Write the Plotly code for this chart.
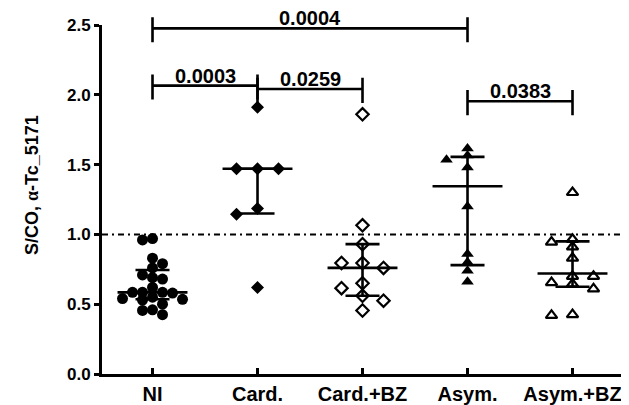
import plotly.graph_objects as go

# ---------------- data ----------------
categories = ["NI", "Card.", "Card.+BZ", "Asym.", "Asym.+BZ"]

ni_values = [0.97, 0.96, 0.83, 0.79, 0.76, 0.71, 0.69, 0.68, 0.62, 0.585, 0.585,
             0.585, 0.58, 0.55, 0.54, 0.535, 0.53, 0.50, 0.46, 0.455, 0.425]
card_values = [1.91, 1.47, 1.47, 1.47, 1.185, 1.145, 0.62]
card_bz_values = [1.86, 1.065, 0.93, 0.795, 0.795, 0.76, 0.65, 0.615, 0.56, 0.525, 0.455]
asym_values = [1.615, 1.565, 1.535, 1.48, 1.20, 0.86, 0.80, 0.74, 0.66]
asym_bz_values = [1.30, 0.965, 0.945, 0.91, 0.83, 0.70, 0.70, 0.655, 0.645, 0.61, 0.425, 0.42]

medians = [0.585, 1.47, 0.76, 1.345, 0.72]
lower_q = [0.535, 1.15, 0.56, 0.78, 0.625]
upper_q = [0.745, 1.47, 0.93, 1.555, 0.95]

p_labels = ["0.0004", "0.0003", "0.0259", "0.0383"]
p_pairs = [(0, 3), (0, 1), (1, 2), (3, 4)]
p_heights = [2.476, 2.066, 2.042, 1.954]

cutoff = 1.0
y_ticks = [0.0, 0.5, 1.0, 1.5, 2.0, 2.5]

# ---------------- layout geometry ----------------
# The page body has an 8px default margin, so the figure is 8px smaller
# than the 629x405 window and its margins are reduced accordingly.
BODY = 8
W, H = 629 - BODY, 405 - BODY
ML, MR, MT, MB = 102 - BODY, 0, 25 - BODY, 29
X0, X1 = -0.481, 4.538
Y0, Y1 = 0.0, 2.5
PX_X = (W - ML - MR) / (X1 - X0)   # pixels per category unit
PX_Y = (H - MT - MB) / (Y1 - Y0)   # pixels per value unit

FONT = "Liberation Sans, Arial, Helvetica, sans-serif"


def xp(v):
    return (v - X0) / (X1 - X0)


def yp(v):
    return (v - Y0) / (Y1 - Y0)


def swarm(values, step_px, min_px):
    """Simple scatter-dot layout: columns spaced step_px, points in the same
    neighbourhood closer than min_px are pushed to side columns."""
    order = sorted(range(len(values)), key=lambda i: -values[i])
    placed = []
    offs = [0.0] * len(values)
    for i in order:
        y = values[i] * PX_Y
        k = 0
        while True:
            if k == 0:
                cands = [0.0]
            else:
                cands = [-k * step_px, k * step_px]
            ok = [dx for dx in cands
                  if all((dx - px) ** 2 + (y - py) ** 2 >= min_px ** 2 for px, py in placed)]
            if ok:
                if len(ok) == 2:
                    nl = sum(1 for px, _ in placed if px < 0)
                    nr = sum(1 for px, _ in placed if px > 0)
                    dx = ok[1] if nr < nl else ok[0]
                else:
                    dx = ok[0]
                offs[i] = dx
                placed.append((dx, y))
                break
            k += 1
    return [o / PX_X for o in offs]


groups = [
    (ni_values, dict(symbol="circle", size=11, color="black"), 10, 7.5),
    (card_values, dict(symbol="diamond", size=10, color="black"), 21, 7),
    (card_bz_values, dict(symbol="diamond-open", size=9.5, color="black",
                          line=dict(color="black", width=2.2)), 21, 7),
    (asym_values, dict(symbol="triangle-up", size=11, color="black"), 21, 7),
    (asym_bz_values, dict(symbol="triangle-up-open", size=10, color="black",
                          line=dict(color="black", width=2.2)), 21, 7),
]

fig = go.Figure()

for gi, (vals, marker, step, dmin) in enumerate(groups):
    offs = swarm(vals, step, dmin)
    fig.add_trace(go.Scatter(
        x=[gi + o for o in offs], y=vals, mode="markers",
        marker=marker, showlegend=False, hoverinfo="skip", cliponaxis=False))

# median + interquartile range lines
ex, ey = [], []
for gi in range(len(categories)):
    ex += [gi - 0.333, gi + 0.333, None]
    ey += [medians[gi], medians[gi], None]
    for q in (lower_q[gi], upper_q[gi]):
        ex += [gi - 0.162, gi + 0.162, None]
        ey += [q, q, None]
    ex += [gi, gi, None]
    ey += [lower_q[gi], upper_q[gi], None]
fig.add_trace(go.Scatter(x=ex, y=ey, mode="lines",
                         line=dict(color="black", width=2.6),
                         showlegend=False, hoverinfo="skip", cliponaxis=False))

shapes = []
annotations = []

# cutoff line
shapes.append(dict(type="line", xref="paper", yref="y", x0=0, x1=1,
                   y0=cutoff, y1=cutoff,
                   line=dict(color="black", width=2, dash="6px,4px,2px,4px")))

# significance brackets
for (a, b), lab, h in zip(p_pairs, p_labels, p_heights):
    xa, xb = xp(a), xp(b)
    ya = yp(h)
    up, dn = yp(h + 0.08), yp(h - 0.10)
    path = (f"M{xa},{up} L{xa},{dn} M{xa},{ya} L{xb},{ya} "
            f"M{xb},{up} L{xb},{dn}")
    shapes.append(dict(type="path", xref="paper", yref="paper", path=path,
                       line=dict(color="black", width=2.6)))
    annotations.append(dict(xref="paper", yref="paper", x=(xa + xb) / 2, y=ya,
                            yshift=-2, borderpad=0, text=f"<b>{lab}</b>",
                            showarrow=False, xanchor="center", yanchor="bottom",
                            font=dict(family=FONT, size=20, color="black")))

# y-axis title (centre at about x=32, y=186 of the window)
annotations.append(dict(
    xref="paper", yref="paper",
    x=(32 - 102) / (W - ML - MR), y=(376 - 186) / (H - MT - MB), textangle=-90,
    text='<b>S/CO, <span style="font-family:\'Liberation Serif\'">α</span>-Tc_5171</b>',
    showarrow=False, xanchor="center", yanchor="middle",
    font=dict(family=FONT, size=18, color="black")))

fig.update_layout(
    width=W, height=H,
    margin=dict(l=ML, r=MR, t=MT, b=MB, pad=0),
    paper_bgcolor="white", plot_bgcolor="white",
    shapes=shapes, annotations=annotations,
    xaxis=dict(range=[X0, X1], tickmode="array",
               tickvals=list(range(len(categories))), ticktext=categories,
               showgrid=False, zeroline=False, showline=True,
               linecolor="black", linewidth=3,
               ticks="inside", ticklen=6, tickwidth=3, tickcolor="black",
               tickfont=dict(family=FONT, size=20, color="black", weight="bold")),
    yaxis=dict(range=[Y0, Y1], tickmode="array", tickvals=y_ticks,
               ticktext=[f"{t:.1f}" for t in y_ticks],
               showgrid=False, zeroline=False, showline=True,
               linecolor="black", linewidth=3,
               ticks="outside", ticklen=5, tickwidth=3, tickcolor="black",
               tickfont=dict(family=FONT, size=17, color="black", weight="bold")),
)

fig.write_html("out.html")
